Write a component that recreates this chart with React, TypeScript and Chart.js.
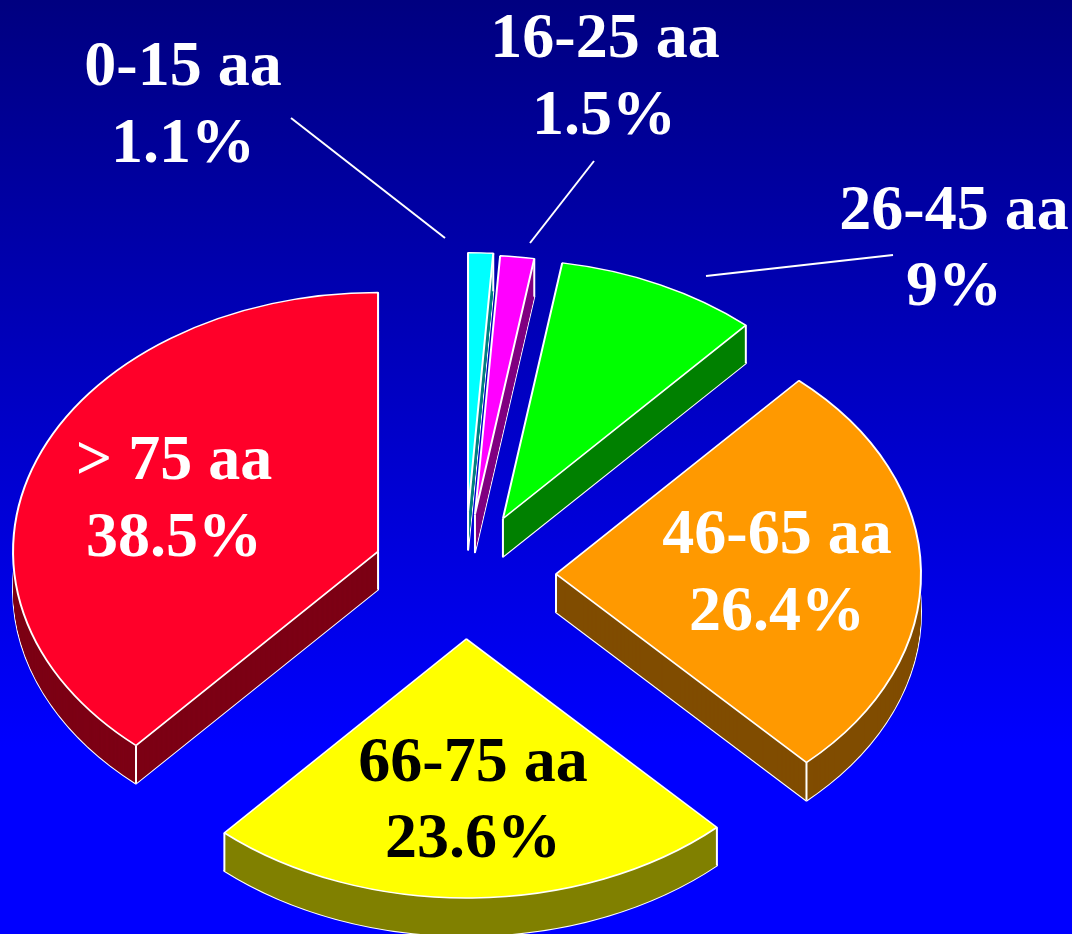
import React, { useEffect, useRef } from "react";
import { Chart, registerables } from "chart.js";

Chart.register(...registerables);

const categories = ["0-15 aa", "16-25 aa", "26-45 aa", "46-65 aa", "66-75 aa", "> 75 aa"];
const percentLabels = ["1.1%", "1.5%", "9%", "26.4%", "23.6%", "38.5%"];
const values = [1.1, 1.5, 9, 26.4, 23.6, 38.5];
const topColors = ["#00ffff", "#ff00ff", "#00ff00", "#ff9900", "#ffff00", "#ff0029"];
const sideColors = ["#008080", "#800080", "#008000", "#804c00", "#808000", "#7d0015"];
const labelColors = ["#ffffff", "#ffffff", "#ffffff", "#ffffff", "#000000", "#ffffff"];

// Layout, not data
const W = 1072;
const H = 934;
const CX = 465;
const CY = 575;
const SQUASH = 0.71;
const DEPTH = 38;
const explode = [89, 86, 88, 91, 90, 93];
const labelLayout = [
  [183, 85, 183, 162],
  [605, 57, 604, 134],
  [954, 229, 954, 305],
  [777, 553, 777, 630],
  [473, 781, 473, 857],
  [174, 479, 174, 556],
];
const leaders = [
  [291, 118, 445, 238],
  [594, 161, 530, 243],
  [893, 255, 706, 276],
];

const pie3d = {
  id: "pie3d",
  beforeDraw(chart: any) {
    const { ctx } = chart;
    const g = ctx.createLinearGradient(0, 0, 0, H);
    g.addColorStop(0, "#000080");
    g.addColorStop(0.8, "#0000ff");
    g.addColorStop(1, "#0000ff");
    ctx.save();
    ctx.fillStyle = g;
    ctx.fillRect(0, 0, W, H);
    ctx.restore();
  },
  beforeDatasetsDraw(chart: any) {
    const { ctx } = chart;
    const arcs = chart.getDatasetMeta(0).data;
    arcs.forEach((arc: any, i: number) => {
      const mid = (arc.startAngle + arc.endAngle) / 2;
      const ox = CX + Math.cos(mid) * explode[i];
      const oy = CY + Math.sin(mid) * explode[i] * SQUASH;
      const r = arc.outerRadius;
      const path = (dy: number) => {
        ctx.save();
        ctx.translate(ox, oy + dy);
        ctx.scale(1, SQUASH);
        ctx.beginPath();
        ctx.moveTo(0, 0);
        ctx.arc(0, 0, r, arc.startAngle, arc.endAngle);
        ctx.closePath();
        ctx.restore();
      };
      // extruded side: outline of the lower face, then the dark body
      ctx.save();
      ctx.strokeStyle = "#ffffff";
      ctx.lineWidth = 2;
      ctx.lineJoin = "round";
      path(DEPTH);
      ctx.stroke();
      ctx.fillStyle = sideColors[i];
      for (let dy = DEPTH; dy >= 1; dy--) {
        path(dy);
        ctx.fill();
      }
      // vertical edges
      const corners = [
        [ox, oy],
        [ox + r * Math.cos(arc.startAngle), oy + r * SQUASH * Math.sin(arc.startAngle)],
        [ox + r * Math.cos(arc.endAngle), oy + r * SQUASH * Math.sin(arc.endAngle)],
      ];
      corners.forEach(([x, y]) => {
        ctx.beginPath();
        ctx.moveTo(x, y);
        ctx.lineTo(x, y + DEPTH);
        ctx.stroke();
      });
      ctx.restore();
      // the top face is the library's own arc, projected
      ctx.save();
      ctx.translate(ox, oy);
      ctx.scale(1, SQUASH);
      ctx.translate(-arc.x, -arc.y);
      arc.draw(ctx);
      ctx.restore();
    });

    ctx.save();
    ctx.strokeStyle = "#ffffff";
    ctx.lineWidth = 2;
    leaders.forEach(([x1, y1, x2, y2]) => {
      ctx.beginPath();
      ctx.moveTo(x1, y1);
      ctx.lineTo(x2, y2);
      ctx.stroke();
    });
    ctx.font = 'bold 64px "Liberation Serif"';
    ctx.textAlign = "center";
    ctx.textBaseline = "alphabetic";
    categories.forEach((c, i) => {
      const [x1, y1, x2, y2] = labelLayout[i];
      ctx.fillStyle = labelColors[i];
      ctx.fillText(c, x1, y1);
      ctx.fillText(percentLabels[i], x2, y2);
    });
    ctx.restore();
    return false;
  },
};

export default function App() {
  const ref = useRef<HTMLCanvasElement>(null);
  useEffect(() => {
    const chart = new Chart(ref.current as HTMLCanvasElement, {
      type: "pie",
      data: {
        labels: categories,
        datasets: [
          {
            data: values,
            backgroundColor: topColors,
            borderColor: "#ffffff",
            borderWidth: 2,
            hoverBorderWidth: 2,
          },
        ],
      },
      options: {
        responsive: false,
        animation: false,
        events: [],
        layout: { padding: { left: 0, right: 340, top: 101, bottom: 101 } },
        plugins: { legend: { display: false }, tooltip: { enabled: false } },
      },
      plugins: [pie3d],
    } as any);
    return () => chart.destroy();
  }, []);
  return (
    <div style={{ position: "absolute", left: 0, top: 0, width: W, height: H }}>
      <canvas ref={ref} width={W} height={H} style={{ display: "block" }} />
    </div>
  );
}
